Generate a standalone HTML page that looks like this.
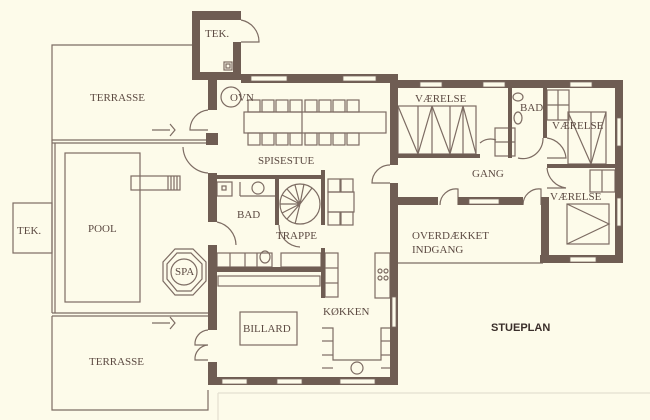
<!DOCTYPE html>
<html><head><meta charset="utf-8"><style>
html,body{margin:0;padding:0;background:#fdfbea;}
svg{display:block}
text{font-family:"Liberation Serif",serif;font-size:11px;fill:#5c4a42;}
</style></head><body>
<svg width="650" height="420" viewBox="0 0 650 420" xmlns="http://www.w3.org/2000/svg">
<rect width="650" height="420" fill="#fdfbea"/>
<g fill="none" stroke="#7d6c63" stroke-width="1.2">
<!-- terraces -->
<polyline points="192,45 52,45 52,140 208,140"/>
<line x1="52" y1="143" x2="208" y2="143"/>
<line x1="52" y1="140" x2="52" y2="313"/><line x1="55" y1="143" x2="55" y2="313"/>
<rect x="65" y="153" width="75" height="149"/>
<rect x="131" y="176" width="49" height="14"/>
<line x1="168" y1="176" x2="168" y2="190"/><line x1="171" y1="176" x2="171" y2="190"/><line x1="174" y1="176" x2="174" y2="190"/><line x1="177" y1="176" x2="177" y2="190"/>
<rect x="13" y="203" width="39" height="50"/>
<line x1="52" y1="313" x2="208" y2="313"/><line x1="52" y1="316" x2="208" y2="316"/>
<polyline points="52,316 52,410 208,410 208,390"/>
<line x1="218" y1="393" x2="650" y2="393" stroke="#e4dfd0"/>
<line x1="218" y1="393" x2="218" y2="420" stroke="#e4dfd0"/>
<!-- arrows -->
<line x1="152" y1="130" x2="170" y2="130"/><path d="M170,124 L175,130 L170,136"/>
<line x1="152" y1="323" x2="170" y2="323"/><path d="M170,317 L175,323 L170,329"/>
<!-- spa -->
<polygon points="175,249 193,249 206,262 206,281 193,295 175,295 163,281 163,262"/>
<polygon points="177,253 191,253 202,264 202,279 191,291 177,291 167,279 167,264"/>
<circle cx="184" cy="272" r="13"/>
<!-- tek door -->
<path d="M241,20 A22,22 0 0 1 259,42 L241,42"/>
<rect x="224" y="62" width="8" height="8"/><rect x="226" y="64" width="4" height="4"/>
<circle cx="231" cy="97" r="10"/>
<!-- doors -->
<path d="M208,110 A20,20 0 0 0 190,130 L208,130"/>
<path d="M208,147 A27,27 0 0 0 208,147 M183,147 A27,27 0 0 0 208,173"/>
<path d="M217,222 A24,24 0 0 1 236,245"/>
<path d="M279,225 A22,22 0 0 0 300,247"/>
<path d="M208,330 A14,14 0 0 0 195,345 L208,345 M208,345 A14,14 0 0 0 195,360 L208,360"/>
<path d="M390,165 A18,18 0 0 0 372,183 L390,183"/>
<path d="M440,205 A16,16 0 0 1 458,189 L458,205"/>
<path d="M523,205 A16,16 0 0 1 541,189 L541,205"/>
<path d="M480,143 A16,16 0 0 1 496,140"/>
<path d="M518,158 A20,20 0 0 0 543,138"/>
<path d="M547,138 A22,22 0 0 1 566,158 L547,158"/>
<path d="M547,168 A22,22 0 0 0 566,188 L547,188"/>
<!-- dining -->
<rect x="244" y="112" width="142" height="21"/>
<g>
<rect x="248" y="100" width="12" height="12"/><rect x="262" y="100" width="12" height="12"/><rect x="276" y="100" width="12" height="12"/><rect x="290" y="100" width="12" height="12"/>
<rect x="305" y="100" width="12" height="12"/><rect x="319" y="100" width="12" height="12"/><rect x="333" y="100" width="12" height="12"/><rect x="347" y="100" width="12" height="12"/>
<rect x="248" y="133" width="12" height="12"/><rect x="262" y="133" width="12" height="12"/><rect x="276" y="133" width="12" height="12"/><rect x="290" y="133" width="12" height="12"/>
<rect x="305" y="133" width="12" height="12"/><rect x="319" y="133" width="12" height="12"/><rect x="333" y="133" width="12" height="12"/><rect x="347" y="133" width="12" height="12"/>
</g>
<line x1="302" y1="112" x2="302" y2="133"/>
<rect x="328" y="192" width="26" height="20"/>
<rect x="328" y="179" width="12" height="13"/><rect x="341" y="179" width="12" height="13"/>
<rect x="328" y="212" width="12" height="13"/><rect x="341" y="212" width="12" height="13"/>
<!-- spiral -->
<circle cx="300" cy="204" r="20"/>
<path d="M300,204 L280,204 M300,204 L282,195 M300,204 L287,189 M300,204 L295,185 M300,204 L304,184 M300,204 L312,188 M300,204 L282,213 M300,204 L287,219 M300,204 L295,224"/>
<!-- bad left -->
<rect x="217" y="182" width="15" height="14"/><rect x="222" y="186" width="4" height="4"/>
<line x1="240" y1="182" x2="240" y2="196"/><line x1="240" y1="196" x2="275" y2="196"/>
<circle cx="258" cy="188" r="6"/>
<rect x="217" y="253" width="55" height="14"/>
<line x1="230" y1="253" x2="230" y2="267"/><line x1="245" y1="253" x2="245" y2="267"/><line x1="257" y1="253" x2="257" y2="267"/>
<ellipse cx="265" cy="257" rx="5" ry="6"/>
<rect x="281" y="253" width="40" height="14"/>
<rect x="218" y="276" width="102" height="10"/>
<!-- kitchen -->
<rect x="325" y="253" width="13" height="44"/>
<line x1="325" y1="268" x2="338" y2="268"/><line x1="325" y1="283" x2="338" y2="283"/>
<rect x="375" y="253" width="15" height="45"/>
<circle cx="380" cy="271" r="2"/><circle cx="386" cy="271" r="2"/><circle cx="380" cy="278" r="2"/><circle cx="386" cy="278" r="2"/>
<polyline points="322,328 333,328 333,360 381,360 381,328 390,328"/>
<line x1="322" y1="341" x2="333" y2="341"/><line x1="322" y1="355" x2="333" y2="355"/><line x1="322" y1="368" x2="333" y2="368"/>
<line x1="381" y1="341" x2="390" y2="341"/><line x1="381" y1="355" x2="390" y2="355"/><line x1="381" y1="368" x2="390" y2="368"/>
<circle cx="357" cy="368" r="6"/>
<rect x="240" y="312" width="57" height="33"/>
<!-- bedrooms -->
<rect x="398" y="106" width="78" height="48"/>
<line x1="418" y1="106" x2="418" y2="154"/><line x1="432" y1="106" x2="432" y2="154"/><line x1="450" y1="106" x2="450" y2="154"/><line x1="463" y1="106" x2="463" y2="154"/>
<path d="M398,106 L418,154 M432,106 L418,154 M432,106 L450,154 M463,106 L450,154 M463,106 L476,154"/>
<rect x="495" y="128" width="20" height="28"/><line x1="495" y1="142" x2="515" y2="142"/>
<ellipse cx="518" cy="97" rx="5" ry="4"/><ellipse cx="518" cy="118" rx="4" ry="6"/>
<rect x="547" y="90" width="22" height="30"/><line x1="547" y1="105" x2="569" y2="105"/><line x1="558" y1="90" x2="558" y2="120"/>
<rect x="568" y="112" width="38" height="52"/><line x1="591" y1="112" x2="591" y2="164"/>
<path d="M568,112 L591,164 L606,112"/>
<rect x="590" y="170" width="25" height="22"/><line x1="602" y1="170" x2="602" y2="192"/>
<rect x="567" y="204" width="42" height="40"/>
<path d="M567,204 L609,224 L567,244"/>
<line x1="398" y1="263" x2="543" y2="263"/>
</g>
<!-- walls -->
<g fill="#6f5d53">
<rect x="192" y="11" width="49" height="9"/>
<rect x="192" y="11" width="8" height="69"/>
<rect x="233" y="11" width="8" height="9"/><rect x="233" y="42" width="8" height="38"/>
<rect x="192" y="72" width="49" height="8"/>
<rect x="208" y="72" width="9" height="38"/>
<rect x="206" y="133" width="12" height="12"/>
<rect x="208" y="173" width="9" height="49"/>
<rect x="208" y="245" width="9" height="85"/>
<rect x="208" y="362" width="9" height="23"/>
<rect x="241" y="74" width="157" height="9"/>
<rect x="390" y="74" width="8" height="91"/>
<rect x="390" y="183" width="8" height="202"/>
<rect x="208" y="377" width="190" height="8"/>
<rect x="398" y="80" width="225" height="8"/>
<rect x="615" y="80" width="8" height="183"/>
<rect x="540" y="255" width="83" height="8"/>
<rect x="398" y="197" width="40" height="8"/><rect x="458" y="197" width="65" height="8"/>
<rect x="541" y="197" width="8" height="66"/>
<rect x="398" y="154" width="82" height="4"/>
<rect x="508" y="88" width="4" height="70"/>
<rect x="543" y="88" width="4" height="50"/>
<rect x="547" y="164" width="68" height="4"/>
<rect x="217" y="175" width="108" height="4"/>
<rect x="275" y="179" width="4" height="46"/>
<rect x="321" y="170" width="4" height="55"/>
<rect x="321" y="248" width="4" height="50"/>
<rect x="217" y="267" width="108" height="5"/>
</g>
<!-- windows -->
<g fill="#fdfbea" stroke="#7d6c63" stroke-width="0.8">
<rect x="251" y="76" width="36" height="5"/><rect x="343" y="76" width="33" height="5"/>
<rect x="420" y="82" width="22" height="5"/><rect x="483" y="82" width="22" height="5"/><rect x="570" y="82" width="22" height="5"/>
<rect x="617" y="118" width="4" height="28"/><rect x="617" y="198" width="4" height="28"/>
<rect x="570" y="257" width="26" height="5"/><rect x="469" y="199" width="30" height="5"/>
<rect x="222" y="379" width="25" height="5"/><rect x="277" y="379" width="25" height="5"/><rect x="340" y="379" width="35" height="5"/>
<rect x="392" y="297" width="4" height="30"/>
</g>
<text x="205" y="37">TEK.</text>
<text x="90" y="101">TERRASSE</text>
<text x="230" y="101">OVN</text>
<text x="258" y="164">SPISESTUE</text>
<text x="415" y="102">VÆRELSE</text>
<text x="520" y="111">BAD</text>
<text x="552" y="129">VÆRELSE</text>
<text x="472" y="177">GANG</text>
<text x="550" y="200">VÆRELSE</text>
<text x="412" y="239">OVERDÆKKET</text>
<text x="412" y="253">INDGANG</text>
<text x="17" y="234">TEK.</text>
<text x="88" y="232">POOL</text>
<text x="237" y="218">BAD</text>
<text x="276" y="239">TRAPPE</text>
<text x="175" y="275">SPA</text>
<text x="243" y="332">BILLARD</text>
<text x="323" y="315">KØKKEN</text>
<text x="89" y="365">TERRASSE</text>
<text x="491" y="331" style="font-family:'Liberation Sans',sans-serif;font-weight:bold;font-size:11px;fill:#3a2e2a">STUEPLAN</text>
</svg>
</body></html>
